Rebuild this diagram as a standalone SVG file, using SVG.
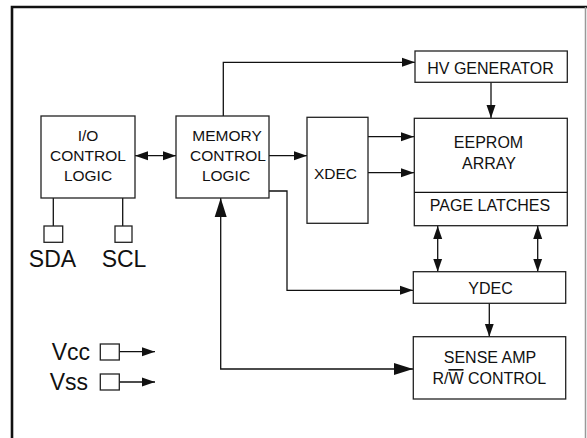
<svg xmlns="http://www.w3.org/2000/svg" width="587" height="438" viewBox="0 0 587 438">
<style>
.box{fill:#fff;stroke:#222;stroke-width:1.3}
.ln{fill:none;stroke:#111;stroke-width:1.3}
.t{font-family:"Liberation Sans",Arial,sans-serif;font-size:15.5px;fill:#111;text-anchor:middle}
.tr{font-family:"Liberation Sans",Arial,sans-serif;font-size:16px;fill:#111;text-anchor:middle}
.pin{font-family:"Liberation Sans",Arial,sans-serif;font-size:23px;fill:#111}
</style>
<defs>
<marker id="a" markerUnits="userSpaceOnUse" markerWidth="14" markerHeight="10" refX="13" refY="4.5" orient="auto-start-reverse" viewBox="0 0 14 9">
<path d="M0,0 L13,4.5 L0,9 Z" fill="#111"/>
</marker>
<marker id="b" markerUnits="userSpaceOnUse" markerWidth="20" markerHeight="13" refX="19" refY="6" orient="auto-start-reverse" viewBox="0 0 20 12">
<path d="M0,0 L19,6 L0,12 Z" fill="#111"/>
</marker>
</defs>
<rect width="587" height="438" fill="#fff"/>
<g id="frame">
<path d="M12,438 V7 H587" fill="none" stroke="#111" stroke-width="2.6"/>
<path d="M585.5,7 V438" fill="none" stroke="#999" stroke-width="1.5"/>
</g>
<g id="connectors">
<path class="ln" d="M135,155.7 H176" marker-start="url(#a)" marker-end="url(#a)"/>
<path class="ln" d="M223.3,116 V62.3 H415" marker-end="url(#a)"/>
<path class="ln" d="M269,155.7 H307" marker-end="url(#a)"/>
<path class="ln" d="M368,136.7 H414" marker-end="url(#a)"/>
<path class="ln" d="M368,172.7 H414" marker-end="url(#a)"/>
<path class="ln" d="M491,82 V118" marker-end="url(#a)"/>
<path class="ln" d="M269,191 H287 V290.3 H413" marker-end="url(#a)"/>
<path class="ln" d="M437.7,226 V271.7" marker-start="url(#a)" marker-end="url(#a)"/>
<path class="ln" d="M537.7,226 V271.7" marker-start="url(#a)" marker-end="url(#a)"/>
<path class="ln" d="M489.3,303 V336.7" marker-end="url(#a)"/>
<path class="ln" d="M220.7,198 V369 H413" marker-start="url(#b)" marker-end="url(#b)"/>
<path class="ln" d="M53.3,198 V226"/>
<path class="ln" d="M122.7,198 V226"/>
<path class="ln" d="M119.3,351.7 H155" marker-end="url(#a)"/>
<path class="ln" d="M119.3,382 H155" marker-end="url(#a)"/>
</g>
<g id="io">
<rect class="box" x="41" y="116" width="94" height="82"/>
<text class="t" x="88" y="140.5">I/O</text>
<text class="t" x="88" y="161">CONTROL</text>
<text class="t" x="88" y="181.2">LOGIC</text>
</g>
<g id="mem">
<rect class="box" x="176" y="116" width="93" height="82"/>
<text class="t" x="227" y="140.5">MEMORY</text>
<text class="t" x="228" y="161">CONTROL</text>
<text class="t" x="226" y="181.2">LOGIC</text>
</g>
<g id="xdec">
<rect class="box" x="307" y="117.3" width="61" height="106"/>
<text class="t" x="335.5" y="179">XDEC</text>
</g>
<g id="hv">
<rect class="box" x="415" y="51" width="152.3" height="31.3"/>
<text class="tr" x="490.5" y="74">HV GENERATOR</text>
</g>
<g id="eeprom">
<rect class="box" x="414.3" y="118.3" width="153" height="107.4"/>
<line class="ln" x1="414.3" y1="192.3" x2="567.3" y2="192.3"/>
<text class="tr" x="488.5" y="147.5">EEPROM</text>
<text class="tr" x="489" y="169">ARRAY</text>
<text class="tr" x="490" y="210.7">PAGE LATCHES</text>
</g>
<g id="ydec">
<rect class="box" x="413.3" y="271.7" width="152.4" height="31.6"/>
<text class="tr" x="490.5" y="293.7">YDEC</text>
</g>
<g id="sense">
<rect class="box" x="413.3" y="336.7" width="152.4" height="62.3"/>
<text class="tr" x="490" y="363">SENSE AMP</text>
<text class="tr" x="489.3" y="384">R/<tspan style="text-decoration:overline">W</tspan> CONTROL</text>
</g>
<g id="sda">
<rect class="box" x="44" y="226" width="18.7" height="16.3"/>
<text class="pin" x="52.5" y="266.7" text-anchor="middle">SDA</text>
</g>
<g id="scl">
<rect class="box" x="115" y="226" width="17" height="16.3"/>
<text class="pin" x="124" y="266.7" text-anchor="middle">SCL</text>
</g>
<g id="vcc">
<rect class="box" x="100.3" y="344" width="19" height="16"/>
<text class="pin" x="90" y="359.5" text-anchor="end">Vcc</text>
</g>
<g id="vss">
<rect class="box" x="100.3" y="374" width="19" height="16"/>
<text class="pin" x="88" y="390" text-anchor="end">Vss</text>
</g>
</svg>
